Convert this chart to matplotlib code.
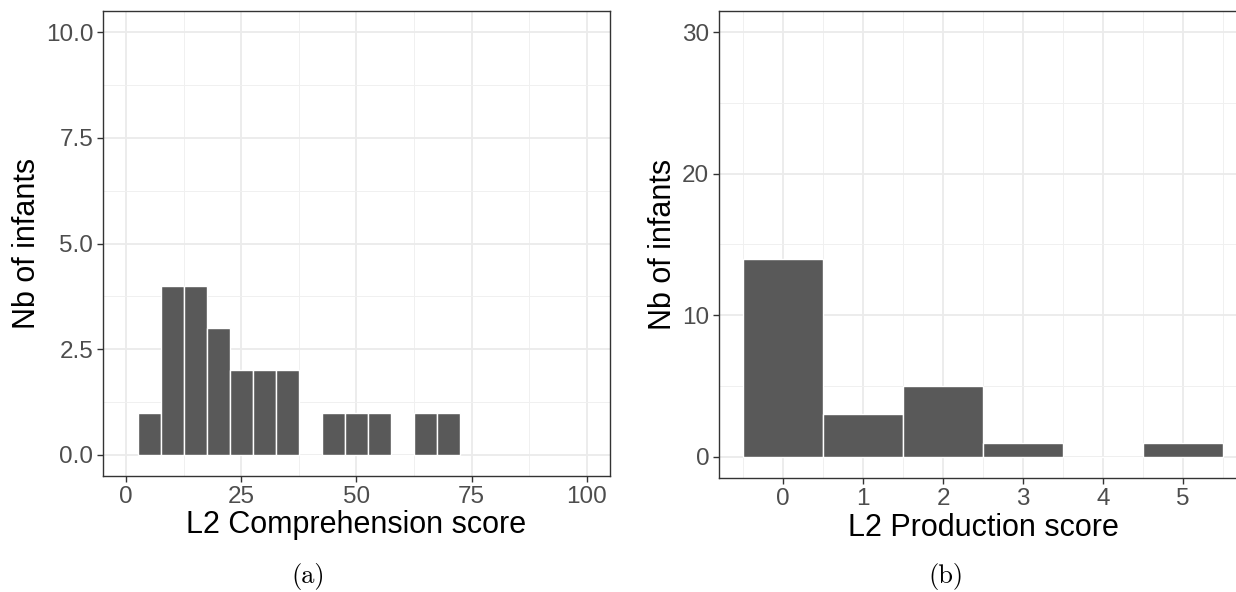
import matplotlib
matplotlib.use("Agg")
import matplotlib.pyplot as plt
import numpy as np

# L2 comprehension histogram (binwidth 5)
comp_bins = [5, 10, 15, 20, 25, 30, 35, 40, 45, 50, 55, 60, 65, 70]
comp_counts = [1, 4, 4, 3, 2, 2, 2, 0, 1, 1, 1, 0, 1, 1]

# L2 production histogram (binwidth 1)
prod_bins = [0, 1, 2, 3, 4, 5]
prod_counts = [14, 3, 5, 1, 0, 1]

W, H = 1236, 592
bar_color = "#595959"
grid_major = "#EBEBEB"
tick_color = "#4D4D4D"
spine_color = "#333333"

plt.rcParams["font.family"] = ["Liberation Sans", "DejaVu Sans"]

fig = plt.figure(figsize=(W / 100, H / 100), dpi=100)


def px_axes(x0, y0, x1, y1):
    # pixel box (top-left origin) -> figure fraction
    return fig.add_axes([x0 / W, 1 - y1 / H, (x1 - x0) / W, (y1 - y0) / H])


def style(ax, xmajor, xminor, ymajor, yminor, xlabel, ylabel):
    ax.set_facecolor("white")
    ax.set_xticks(xmajor)
    ax.set_xticks(xminor, minor=True)
    ax.set_yticks(ymajor)
    ax.set_yticks(yminor, minor=True)
    ax.grid(which="major", color=grid_major, linewidth=1.3, zorder=0)
    ax.grid(which="minor", color="#F0F0F0", linewidth=0.7, zorder=0)
    ax.set_axisbelow(True)
    ax.tick_params(which="major", length=4, width=1, color=spine_color,
                   labelcolor=tick_color, labelsize=17.5, pad=3)
    ax.tick_params(which="minor", length=0)
    for s in ax.spines.values():
        s.set_color(spine_color)
        s.set_linewidth(1.0)
    ax.set_xlabel(xlabel, fontsize=22, color="black", labelpad=2)
    ax.set_ylabel(ylabel, fontsize=22, color="black", labelpad=3)


# panel (a)
ax1 = px_axes(103, 11, 610, 476)
ax1.bar(comp_bins, comp_counts, width=5, color=bar_color, edgecolor="white",
        linewidth=1.0, zorder=2)
ax1.set_xlim(-5, 105)
ax1.set_ylim(-0.5, 10.5)
style(ax1, [0, 25, 50, 75, 100], [12.5, 37.5, 62.5, 87.5],
      [0, 2.5, 5, 7.5, 10], [1.25, 3.75, 6.25, 8.75],
      "L2 Comprehension score", "Nb of infants")
ax1.set_yticklabels(["0.0", "2.5", "5.0", "7.5", "10.0"])

# panel (b)
ax2 = px_axes(719, 11, 1247, 478)
ax2.bar(prod_bins, prod_counts, width=1, color=bar_color, edgecolor="white",
        linewidth=1.0, zorder=2)
ax2.set_xlim(-0.8, 5.8)
ax2.set_ylim(-1.5, 31.5)
style(ax2, [0, 1, 2, 3, 4, 5], [-0.5, 0.5, 1.5, 2.5, 3.5, 4.5, 5.5],
      [0, 10, 20, 30], [5, 15, 25],
      "L2 Production score", "Nb of infants")

fig.text(308 / W, 1 - 576 / H, "(a)", fontsize=19, family=["cmr10", "DejaVu Serif"],
         ha="center", va="center")
fig.text(946 / W, 1 - 576 / H, "(b)", fontsize=19, family=["cmr10", "DejaVu Serif"],
         ha="center", va="center")

fig.savefig("out.png", dpi=100, facecolor="white")
